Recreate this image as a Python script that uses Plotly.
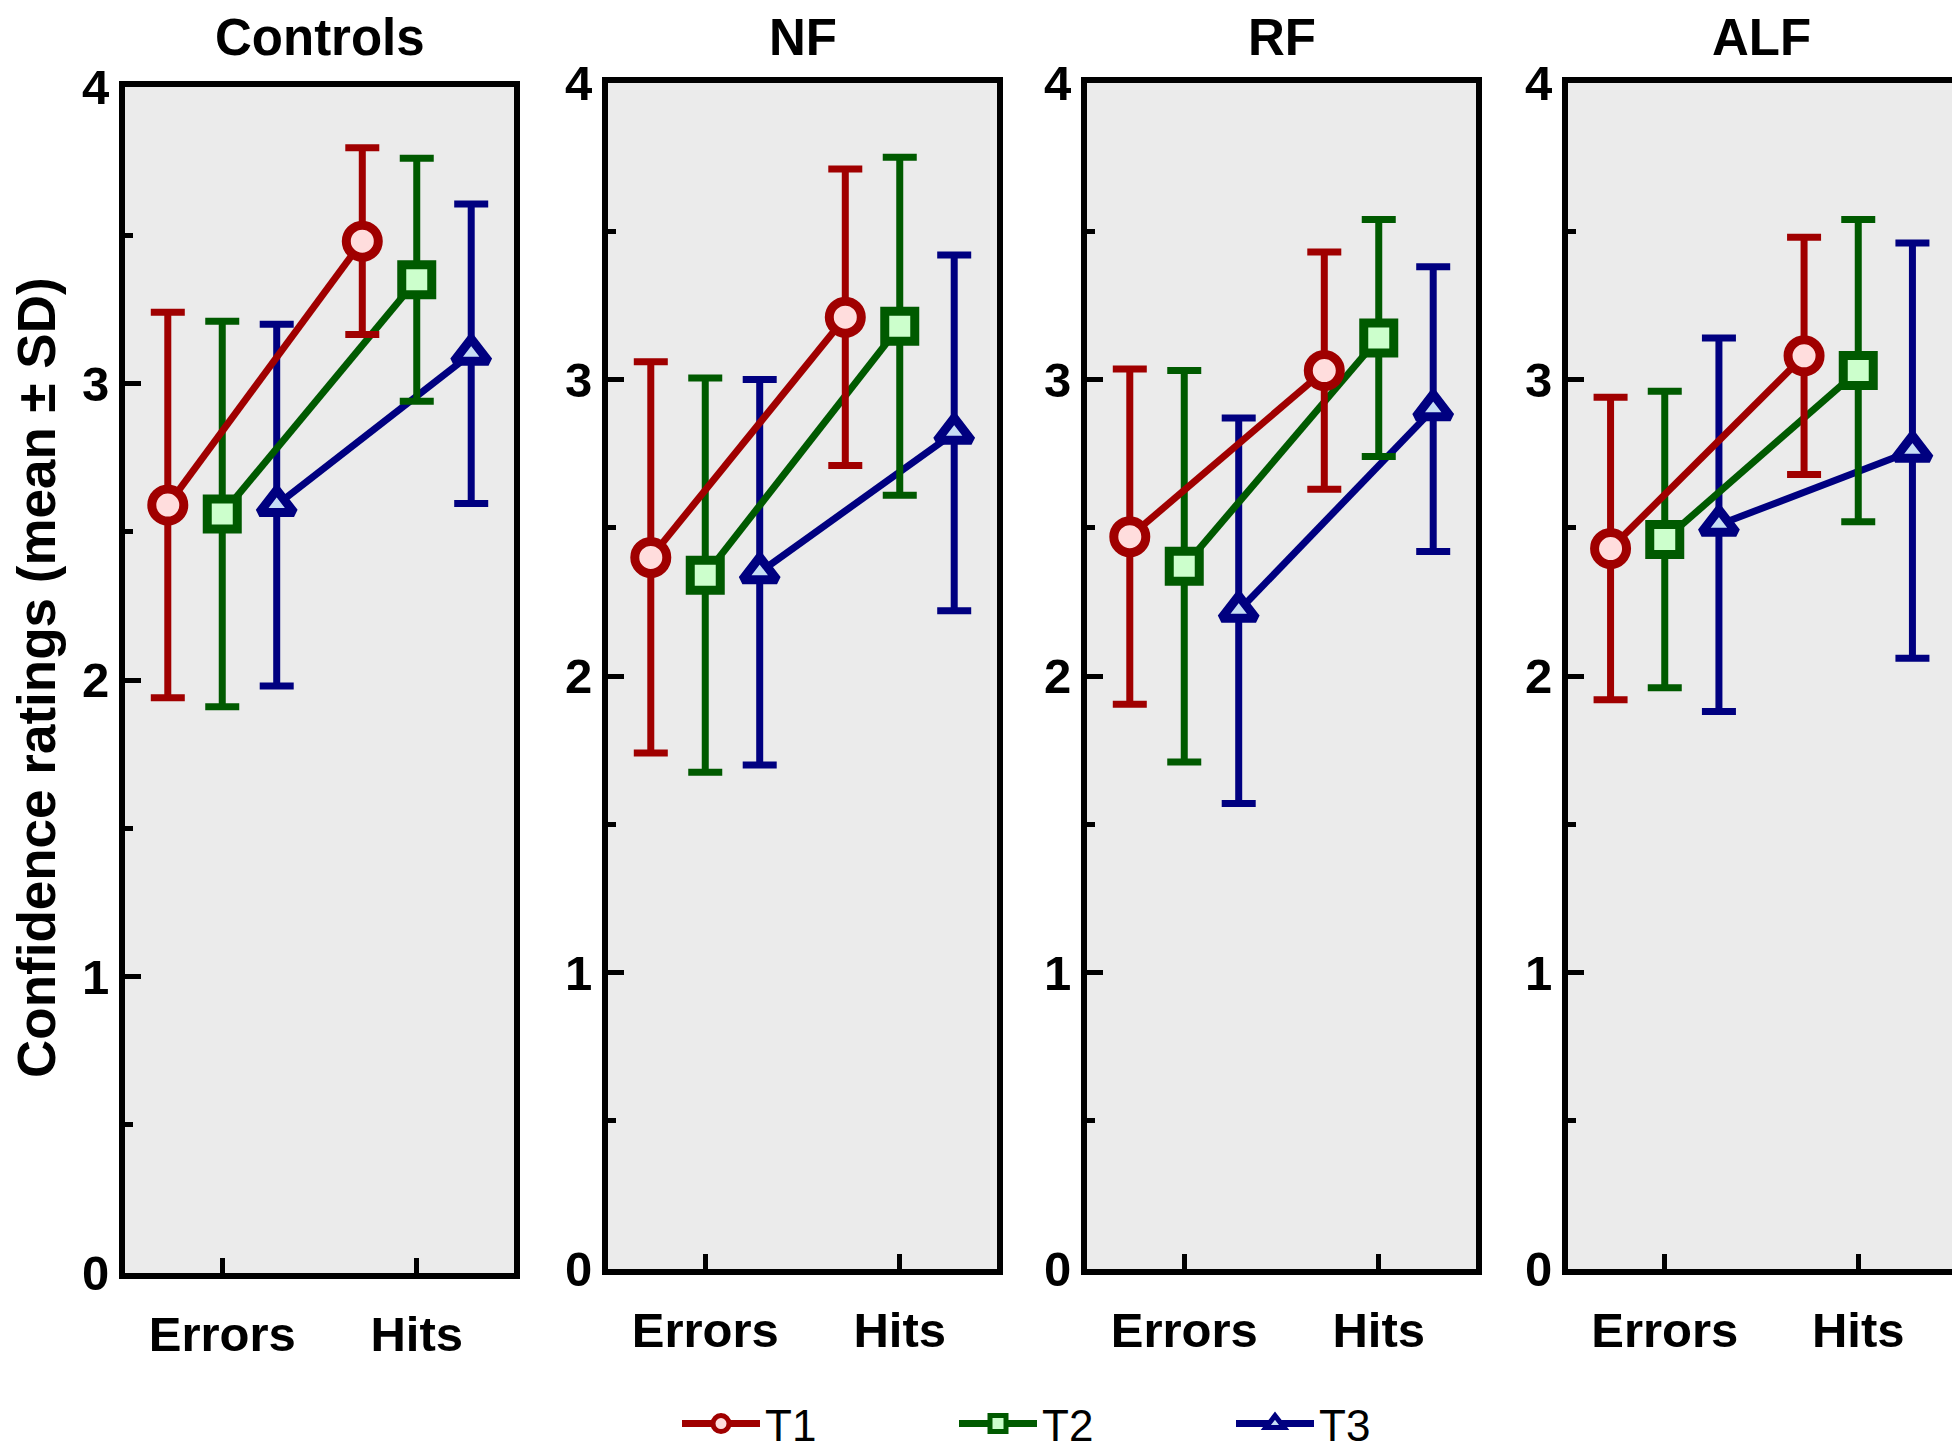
import plotly.graph_objects as go

# groups (panels) and conditions on the x axis
groups = ["Controls", "NF", "RF", "ALF"]
conditions = ["Errors", "Hits"]
series = ["T1", "T2", "T3"]

# means per group: [Errors, Hits]
t1_mean = [[2.59, 3.48], [2.40, 3.21], [2.47, 3.03], [2.43, 3.08]]
t2_mean = [[2.56, 3.35], [2.34, 3.18], [2.37, 3.14], [2.46, 3.03]]
t3_mean = [[2.59, 3.10], [2.35, 2.82], [2.22, 2.90], [2.51, 2.76]]

# standard deviations per group: [Errors, Hits]
t1_sd = [[0.65, 0.315], [0.66, 0.50], [0.565, 0.40], [0.51, 0.40]]
t2_sd = [[0.65, 0.41], [0.665, 0.57], [0.66, 0.40], [0.50, 0.51]]
t3_sd = [[0.61, 0.505], [0.65, 0.60], [0.65, 0.48], [0.63, 0.70]]

W, H = 1960, 1455
OFF = 8  # page body margin
FONT = "Liberation Sans, Arial, sans-serif"


def px_x(p):
    return (p - OFF) / W


def px_y(p):
    return 1 - (p - OFF) / H


means = {"T1": t1_mean, "T2": t2_mean, "T3": t3_mean}
sds = {"T1": t1_sd, "T2": t2_sd, "T3": t3_sd}
line_col = {"T1": "#A00000", "T2": "#005A00", "T3": "#000080"}
fill_col = {"T1": "#FFDDDD", "T2": "#CCFFCC", "T3": "#C6DDF5"}
symbols = {"T1": "circle", "T2": "square", "T3": "triangle-up"}
sizes = {"T1": 32, "T2": 30, "T3": 30}
dodge = {"T1": -0.28, "T2": 0.0, "T3": 0.28}

# panel boxes in page pixels (left, right, top, bottom)
boxes = [(125, 514, 87, 1273), (608, 997, 83, 1269),
         (1087, 1476, 83, 1269), (1568, 1955, 83, 1269)]

fig = go.Figure()

for g, name in enumerate(groups):
    ax = "" if g == 0 else str(g + 1)
    for s in ["T3", "T2", "T1"]:
        fig.add_trace(go.Scatter(
            x=[i + dodge[s] for i in range(len(conditions))],
            y=means[s][g],
            error_y=dict(type="data", array=sds[s][g], color=line_col[s],
                         thickness=7, width=17),
            mode="lines+markers",
            line=dict(color=line_col[s], width=7),
            marker=dict(symbol=symbols[s], size=sizes[s], color=fill_col[s],
                        line=dict(color=line_col[s], width=9)),
            name=s, legendgroup=s, showlegend=(g == 0),
            legendrank=series.index(s) + 1,
            xaxis="x" + ax, yaxis="y" + ax,
        ))

    l, r, t, b = boxes[g]
    axis_common = dict(showline=True, linecolor="black", linewidth=6, mirror=True,
                       showgrid=False, zeroline=False, ticks="inside",
                       tickcolor="black", tickwidth=5)
    fig.layout["xaxis" + ax] = dict(
        axis_common, domain=[px_x(l), px_x(r)], range=[-0.5, 1.5],
        anchor="y" + ax, tickvals=list(range(len(conditions))),
        ticktext=conditions, ticklen=15, ticklabelstandoff=13,
        tickfont=dict(family=FONT, size=49, color="black", weight="bold"))
    fig.layout["yaxis" + ax] = dict(
        axis_common, domain=[px_y(b), px_y(t)], range=[0, 4],
        anchor="x" + ax, tickvals=[0, 1, 2, 3, 4], ticklen=16,
        minor=dict(dtick=0.5, ticks="inside", ticklen=8, tickwidth=5,
                   tickcolor="black", showgrid=False),
        tickfont=dict(family=FONT, size=49, color="black", weight="bold"))
    fig.add_annotation(text=name, x=px_x((l + r) / 2), y=px_y(37),
                       xref="paper", yref="paper", showarrow=False,
                       xanchor="center", yanchor="middle",
                       font=dict(family=FONT, size=51, color="black", weight="bold"))

fig.add_annotation(text="Confidence ratings (mean ± SD)", x=px_x(37),
                   y=px_y(678), xref="paper", yref="paper", showarrow=False,
                   textangle=-90, xanchor="center", yanchor="middle",
                   font=dict(family=FONT, size=53, color="black", weight="bold"))

fig.update_layout(
    width=W, height=H,
    margin=dict(l=0, r=0, t=0, b=0, autoexpand=False),
    paper_bgcolor="white", plot_bgcolor="#EBEBEB",
    legend=dict(orientation="h", x=px_x(677), xanchor="left",
                y=px_y(1424), yanchor="middle",
                font=dict(family=FONT, size=44, color="black"),
                itemwidth=78, entrywidth=184, itemsizing="trace",
                bgcolor="rgba(0,0,0,0)"),
)

fig.write_html("out.html")
